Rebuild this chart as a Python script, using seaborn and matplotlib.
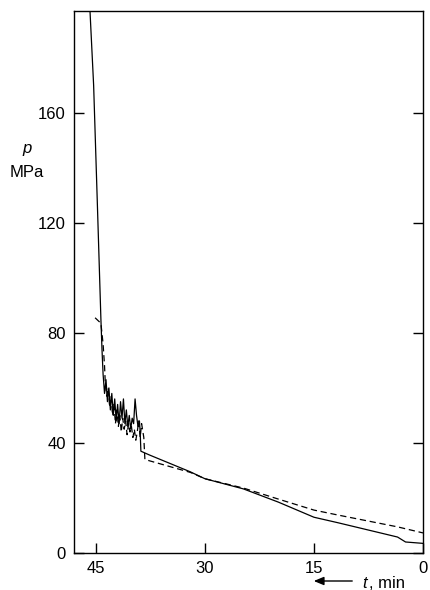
import numpy as np
import pandas as pd
import matplotlib
matplotlib.use("Agg")
import matplotlib.pyplot as plt
import seaborn as sns

# solid curve (t in min, p in MPa)
solid_t = [45.8, 45.3, 44.8, 44.3, 44.15, 44.0, 43.8, 43.6, 43.4, 43.2, 43.0, 42.8,
           42.6, 42.4, 42.2, 42.0, 41.8, 41.6, 41.4, 41.2, 41.0, 40.8, 40.6, 40.4,
           40.2, 40.0, 39.8, 39.6, 39.4, 39.2, 39.0, 38.9, 38.8, 37.6, 32.0, 30.0,
           24.7, 19.9, 15.0, 11.7, 3.5, 2.4, 0.0]
solid_p = [197, 170, 128, 85, 74, 65, 58, 63, 55, 60, 52, 58,
           50, 56, 48, 54, 47, 55, 49, 56, 47, 52, 46, 50,
           45, 49, 47, 56, 50, 46, 48, 44, 37, 35.6, 29.5, 27,
           23.3, 18.5, 13, 11, 5.8, 4, 3.5]

# dashed curve
dash_t = [45.1, 44.3, 44.0, 43.8, 43.7, 43.5, 43.3, 43.1, 42.9, 42.7, 42.5, 42.3,
          42.1, 41.9, 41.7, 41.5, 41.3, 41.1, 40.9, 40.7, 40.5, 40.3, 40.1, 39.9,
          39.7, 39.5, 39.3, 39.1, 38.9, 38.7, 38.4, 38.25, 37.6, 32.0, 30.0, 24.7,
          19.9, 15.0, 11.7, 3.5, 0.0]
dash_p = [85.5, 83.5, 76, 68, 62, 57, 60, 53, 57, 50, 54, 47,
          52, 46, 50, 44, 49, 45, 48, 43, 47, 44, 46, 42,
          45, 41, 44, 48, 42, 47, 42, 34, 33.5, 29.3, 27, 23.6,
          19.6, 15.6, 13.8, 9.5, 7.3]

x_ticks = [45, 30, 15, 0]
y_ticks = [0, 40, 80, 120, 160]

sns.set_style("ticks")
plt.rcParams["font.family"] = ["Liberation Sans", "DejaVu Sans"]
plt.rcParams["text.color"] = "black"

fig = plt.figure(figsize=(4.3, 5.9), dpi=100)
ax = fig.add_axes([74 / 430, 37 / 590, 349 / 430, 542 / 590])

sns.lineplot(x=solid_t, y=solid_p, sort=False, estimator=None, color="black",
             lw=0.9, ax=ax)
sns.lineplot(x=dash_t, y=dash_p, sort=False, estimator=None, color="black",
             lw=0.9, ax=ax)
ax.lines[-1].set_dashes([5, 3])

ax.set_xlim(48, 0)
ax.set_ylim(0, 197)
ax.set_xticks(x_ticks)
ax.set_yticks(y_ticks)
ax.tick_params(direction="in", length=7, width=1, labelsize=12, colors="black",
               right=True, top=False, pad=6)
for s in ax.spines.values():
    s.set_color("black")
    s.set_linewidth(1)
ax.set_xlabel("")
ax.set_ylabel("")

fig.text(22 / 430, 1 - 148 / 590, "p", fontsize=12, style="italic",
         ha="left", va="center")
fig.text(10 / 430, 1 - 172 / 590, "MPa", fontsize=12, ha="left", va="center")

fig.text(362 / 430, 1 - 583 / 590, "t", fontsize=12, style="italic",
         ha="left", va="center")
fig.text(369 / 430, 1 - 583 / 590, ", min", fontsize=12, ha="left", va="center")
fig.patches.append(matplotlib.patches.FancyArrowPatch(
    (355 / 430, 1 - 581 / 590), (311 / 430, 1 - 581 / 590),
    transform=fig.transFigure, arrowstyle="-|>,head_length=6,head_width=2.5",
    color="black", lw=1))

fig.savefig("out.png", dpi=100)
